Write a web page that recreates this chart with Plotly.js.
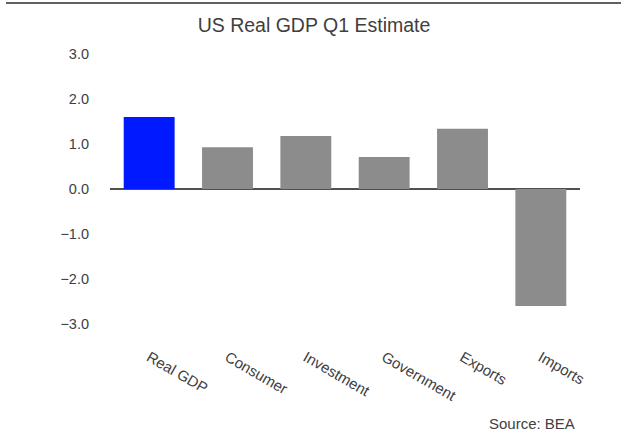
<!DOCTYPE html>
<html>
<head>
<meta charset="utf-8">
<script src="https://cdn.plot.ly/plotly-3.0.1.min.js"></script>
<style>html,body{margin:0;padding:0;background:#fff;}#chart{width:622px;height:434px;}</style>
</head>
<body>
<div id="chart"></div>
<script>
const categories = ["Real GDP", "Consumer", "Investment", "Government", "Exports", "Imports"];
const values = [1.6, 0.93, 1.18, 0.71, 1.34, -2.6];
const barColors = ["#0019FF", "#8C8C8C", "#8C8C8C", "#8C8C8C", "#8C8C8C", "#8C8C8C"];
const yTicks = [3, 2, 1, 0, -1, -2, -3];
const yTickText = ["3.0", "2.0", "1.0", "0.0", "\u22121.0", "\u22122.0", "\u22123.0"];

const font = "'Liberation Sans', Arial, sans-serif";
const L = 110, R = 580, T = 54, B = 324;
const W = 622, H = 434;

const trace = {
  type: "bar",
  x: categories,
  y: values,
  marker: {color: barColors, line: {width: 0}},
  hoverinfo: "x+y"
};

const layout = {
  width: W, height: H,
  margin: {l: L, r: W - R, t: T, b: H - B, pad: 0},
  paper_bgcolor: "#ffffff",
  plot_bgcolor: "#ffffff",
  showlegend: false,
  bargap: 0.35,
  title: {text: "US Real GDP Q1 Estimate", font: {family: font, size: 19.5, color: "#404040"},
          x: (314 - L) / (R - L), xref: "paper", xanchor: "center", y: 1 - 25 / H, yanchor: "middle"},
  xaxis: {
    showgrid: false, zeroline: false, showline: false,
    ticks: "", tickangle: 30,
    ticklabelstandoff: 21,
    tickfont: {family: font, size: 15, color: "#404040"}
  },
  yaxis: {
    range: [-3, 3],
    tickvals: yTicks, ticktext: yTickText,
    showgrid: false, showline: false,
    zeroline: true, zerolinecolor: "#505050", zerolinewidth: 2,
    ticks: "", ticklabelstandoff: 20,
    tickfont: {family: font, size: 14.5, color: "#404040"}
  },
  shapes: [{
    type: "line", xref: "paper", yref: "paper",
    x0: (6 - L) / (R - L), x1: (621 - L) / (R - L),
    y0: (B - 3) / (B - T), y1: (B - 3) / (B - T),
    line: {color: "#606060", width: 2}
  }],
  annotations: [{
    text: "Source: BEA", showarrow: false,
    xref: "paper", yref: "paper",
    x: (577 - L) / (R - L), xanchor: "right",
    y: (B - 424) / (B - T), yanchor: "middle",
    font: {family: font, size: 15, color: "#404040"}
  }]
};

Plotly.newPlot("chart", [trace], layout, {displayModeBar: false, staticPlot: true});
</script>
</body>
</html>
